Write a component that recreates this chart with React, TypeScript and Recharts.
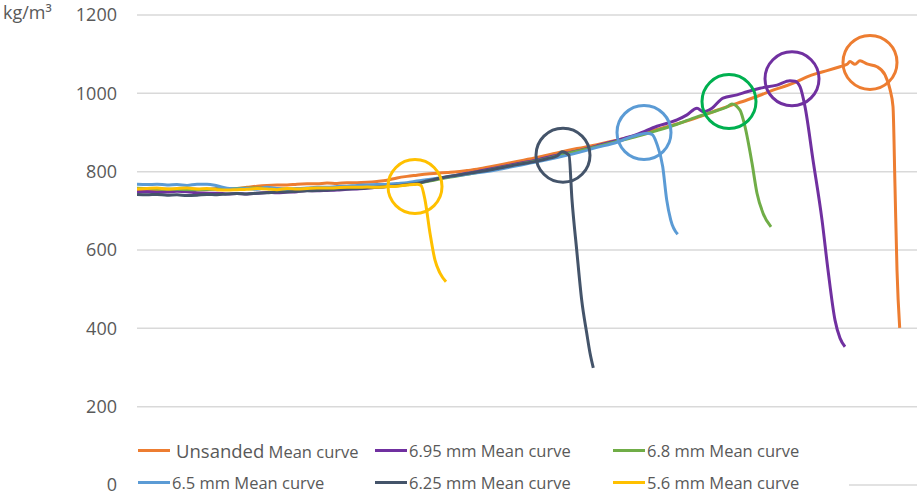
import React from 'react';
import { LineChart, Line, XAxis, YAxis, CartesianGrid, Legend, ReferenceDot } from 'recharts';

// x is test progress (arbitrary units), y is density in kg/m³
const unsandedCurve = [
  { x: 0, y: 754 }, { x: 1, y: 752 }, { x: 2, y: 753 }, { x: 3, y: 755 }, { x: 4, y: 754 },
  { x: 5, y: 756 }, { x: 6, y: 755 }, { x: 7, y: 754 }, { x: 8, y: 757 }, { x: 9, y: 755 },
  { x: 10, y: 757 }, { x: 11, y: 760 }, { x: 12, y: 763 }, { x: 13, y: 765 }, { x: 14, y: 766 },
  { x: 15, y: 766 }, { x: 16, y: 768 }, { x: 17, y: 769 }, { x: 18, y: 769 }, { x: 19, y: 771 },
  { x: 20, y: 770 }, { x: 21, y: 772 }, { x: 22, y: 772 }, { x: 23, y: 773 }, { x: 24, y: 775 },
  { x: 25, y: 778 }, { x: 26, y: 784 }, { x: 27, y: 788 }, { x: 28, y: 791 }, { x: 29, y: 794 },
  { x: 30, y: 796 }, { x: 31, y: 798 }, { x: 32, y: 800 }, { x: 33, y: 803 }, { x: 34, y: 806 },
  { x: 36, y: 816 }, { x: 38, y: 826 }, { x: 40, y: 836 }, { x: 42, y: 848 }, { x: 44, y: 859 },
  { x: 46, y: 869 }, { x: 48, y: 880 }, { x: 50, y: 893 }, { x: 52, y: 908 }, { x: 54, y: 922 },
  { x: 56, y: 938 }, { x: 57.6, y: 953 }, { x: 59, y: 966 }, { x: 61, y: 983 }, { x: 62.5, y: 997 },
  { x: 63.6, y: 1008 }, { x: 65, y: 1020 }, { x: 66, y: 1030 }, { x: 67, y: 1042 }, { x: 68, y: 1051 },
  { x: 69, y: 1058 }, { x: 70.3, y: 1068 }, { x: 71, y: 1074 }, { x: 71.3, y: 1081 }, { x: 71.8, y: 1074 },
  { x: 72.3, y: 1083 }, { x: 73, y: 1075 }, { x: 74, y: 1068 }, { x: 74.8, y: 1047 }, { x: 75.3, y: 1010 },
  { x: 75.6, y: 966 }, { x: 75.8, y: 762 }, { x: 76, y: 549 }, { x: 76.27, y: 401 },
];

const mm695Curve = [
  { x: 0, y: 748 }, { x: 1, y: 749 }, { x: 2, y: 747 }, { x: 3, y: 748 }, { x: 4, y: 750 },
  { x: 5, y: 749 }, { x: 6, y: 746 }, { x: 7, y: 745 }, { x: 8, y: 745 }, { x: 9, y: 743 },
  { x: 10, y: 744 }, { x: 11, y: 743 }, { x: 12, y: 745 }, { x: 13, y: 747 }, { x: 14, y: 746 },
  { x: 15, y: 748 }, { x: 16, y: 749 }, { x: 17, y: 752 }, { x: 18, y: 751 }, { x: 19, y: 752 },
  { x: 20, y: 753 }, { x: 21, y: 755 }, { x: 22, y: 756 }, { x: 23, y: 758 }, { x: 24, y: 760 },
  { x: 25, y: 762 }, { x: 26, y: 765 }, { x: 27, y: 768 }, { x: 28, y: 772 }, { x: 29, y: 777 },
  { x: 30, y: 782 }, { x: 31, y: 786 }, { x: 32, y: 791 }, { x: 33, y: 796 }, { x: 34, y: 800 },
  { x: 36, y: 810 }, { x: 38, y: 820 }, { x: 40, y: 830 }, { x: 42, y: 842 }, { x: 44, y: 853 },
  { x: 46, y: 866 }, { x: 48, y: 880 }, { x: 50, y: 895 }, { x: 52, y: 916 }, { x: 54, y: 932 },
  { x: 55, y: 945 }, { x: 56, y: 962 }, { x: 56.6, y: 953 }, { x: 57.5, y: 962 }, { x: 58.6, y: 988 },
  { x: 60, y: 996 }, { x: 61, y: 1004 }, { x: 62.3, y: 1013 }, { x: 64, y: 1021 }, { x: 65.3, y: 1032 },
  { x: 65.8, y: 1031 }, { x: 66.3, y: 1017 }, { x: 66.8, y: 966 }, { x: 67.6, y: 830 }, { x: 68.5, y: 677 },
  { x: 69.1, y: 549 }, { x: 69.8, y: 421 }, { x: 70.3, y: 375 }, { x: 70.8, y: 353 },
];

const mm68Curve = [
  { x: 0, y: 758 }, { x: 2, y: 756 }, { x: 4, y: 755 }, { x: 6, y: 754 }, { x: 8, y: 756 },
  { x: 10, y: 757 }, { x: 12, y: 758 }, { x: 14, y: 756 }, { x: 16, y: 755 }, { x: 18, y: 757 },
  { x: 20, y: 758 }, { x: 22, y: 760 }, { x: 24, y: 762 }, { x: 26, y: 765 }, { x: 28, y: 770 },
  { x: 30, y: 780 }, { x: 32, y: 789 }, { x: 34, y: 798 }, { x: 36, y: 808 }, { x: 38, y: 818 },
  { x: 40, y: 828 }, { x: 42, y: 840 }, { x: 44, y: 852 }, { x: 46, y: 864 }, { x: 48, y: 877 },
  { x: 50, y: 890 }, { x: 52, y: 905 }, { x: 54, y: 921 }, { x: 56, y: 940 }, { x: 57, y: 948 },
  { x: 58, y: 956 }, { x: 59, y: 965 }, { x: 59.5, y: 973 }, { x: 60.3, y: 957 }, { x: 60.8, y: 915 },
  { x: 61.5, y: 822 }, { x: 62, y: 745 }, { x: 62.6, y: 694 }, { x: 63.4, y: 659 },
];

const mm65Curve = [
  { x: 0, y: 768 }, { x: 1, y: 767 }, { x: 2, y: 768 }, { x: 3, y: 766 }, { x: 4, y: 767 },
  { x: 5, y: 765 }, { x: 6, y: 768 }, { x: 7, y: 768 }, { x: 8, y: 764 }, { x: 9, y: 758 },
  { x: 10, y: 756 }, { x: 11, y: 757 }, { x: 12, y: 755 }, { x: 13, y: 760 }, { x: 14, y: 757 },
  { x: 15, y: 756 }, { x: 16, y: 757 }, { x: 17, y: 758 }, { x: 18, y: 760 }, { x: 19, y: 760 },
  { x: 20, y: 762 }, { x: 21, y: 763 }, { x: 22, y: 765 }, { x: 23, y: 766 }, { x: 24, y: 767 },
  { x: 25, y: 768 }, { x: 26, y: 770 }, { x: 27, y: 772 }, { x: 28, y: 776 }, { x: 30, y: 783 },
  { x: 32, y: 790 }, { x: 34, y: 797 }, { x: 36, y: 805 }, { x: 38, y: 815 }, { x: 40, y: 825 },
  { x: 42, y: 836 }, { x: 44, y: 848 }, { x: 46, y: 862 }, { x: 48, y: 875 }, { x: 49, y: 885 },
  { x: 50, y: 893 }, { x: 51, y: 898 }, { x: 51.5, y: 895 }, { x: 51.97, y: 872 }, { x: 52.57, y: 813 },
  { x: 52.97, y: 728 }, { x: 53.37, y: 677 }, { x: 54.07, y: 640 },
];

const mm625Curve = [
  { x: 0, y: 742 }, { x: 1, y: 741 }, { x: 2, y: 742 }, { x: 3, y: 740 }, { x: 4, y: 741 },
  { x: 5, y: 739 }, { x: 6, y: 740 }, { x: 7, y: 742 }, { x: 8, y: 741 }, { x: 9, y: 743 },
  { x: 10, y: 744 }, { x: 11, y: 743 }, { x: 12, y: 745 }, { x: 13, y: 746 }, { x: 14, y: 748 },
  { x: 15, y: 748 }, { x: 16, y: 750 }, { x: 17, y: 751 }, { x: 18, y: 752 }, { x: 19, y: 753 },
  { x: 20, y: 755 }, { x: 21, y: 756 }, { x: 22, y: 757 }, { x: 23, y: 758 }, { x: 24, y: 760 },
  { x: 25, y: 762 }, { x: 26, y: 764 }, { x: 27, y: 767 }, { x: 28, y: 770 }, { x: 29, y: 776 },
  { x: 30, y: 782 }, { x: 31, y: 787 }, { x: 32, y: 791 }, { x: 33, y: 795 }, { x: 34, y: 799 },
  { x: 35, y: 803 }, { x: 36, y: 808 }, { x: 37, y: 813 }, { x: 38, y: 818 }, { x: 39, y: 822 },
  { x: 40, y: 827 }, { x: 41, y: 833 }, { x: 42, y: 840 }, { x: 42.5, y: 851 }, { x: 43.2, y: 842 },
  { x: 43.5, y: 728 }, { x: 43.97, y: 600 }, { x: 44.47, y: 472 }, { x: 44.97, y: 388 }, { x: 45.3, y: 337 },
  { x: 45.63, y: 299 },
];

const mm56Curve = [
  { x: 0, y: 756 }, { x: 1, y: 757 }, { x: 2, y: 758 }, { x: 3, y: 756 }, { x: 4, y: 757 },
  { x: 5, y: 758 }, { x: 6, y: 756 }, { x: 7, y: 757 }, { x: 8, y: 754 }, { x: 9, y: 753 },
  { x: 10, y: 754 }, { x: 11, y: 755 }, { x: 12, y: 757 }, { x: 13, y: 756 }, { x: 14, y: 754 },
  { x: 15, y: 757 }, { x: 16, y: 756 }, { x: 17, y: 757 }, { x: 18, y: 758 }, { x: 19, y: 758 },
  { x: 20, y: 759 }, { x: 21, y: 760 }, { x: 22, y: 760 }, { x: 23, y: 761 }, { x: 24, y: 760 },
  { x: 25, y: 762 }, { x: 26, y: 763 }, { x: 27, y: 766 }, { x: 28, y: 768 }, { x: 28.4, y: 765 },
  { x: 28.8, y: 728 }, { x: 29.3, y: 643 }, { x: 29.8, y: 574 }, { x: 30.3, y: 541 }, { x: 30.9, y: 519 },
];

// circled break points: [x, y, colour]
const breakMarks: [number, number, string][] = [
  [27.8, 762, '#FFC000'],
  [42.6, 842, '#44546A'],
  [50.7, 900, '#5B9BD5'],
  [59.2, 979, '#00B050'],
  [65.5, 1037, '#7030A0'],
  [73.3, 1079, '#ED7D31'],
];

const yTicks = [0, 200, 400, 600, 800, 1000, 1200];

const series = [
  { name: 'Unsanded Mean curve', data: unsandedCurve, color: '#ED7D31' },
  { name: '6.95 mm Mean curve', data: mm695Curve, color: '#7030A0' },
  { name: '6.8 mm Mean curve', data: mm68Curve, color: '#70AD47' },
  { name: '6.5 mm Mean curve', data: mm65Curve, color: '#5B9BD5' },
  { name: '6.25 mm Mean curve', data: mm625Curve, color: '#44546A' },
  { name: '5.6 mm Mean curve', data: mm56Curve, color: '#FFC000' },
];

const FONT = '"Open Sans", sans-serif';
const TEXT = '#595959';

// Excel-style legend, kept in series order (recharts would sort it by name)
const renderLegend = () => (
  <div
    style={{
      display: 'grid',
      gridTemplateColumns: '237px 238px 1fr',
      gridAutoRows: '32px',
      alignItems: 'center',
      paddingLeft: 1,
      fontFamily: FONT,
      fontSize: 16.5,
      color: TEXT,
    }}
  >
    {series.map((s) => {
      const isUnsanded = s.name.startsWith('Unsanded');
      return (
        <div key={s.name} style={{ display: 'flex', alignItems: 'center', whiteSpace: 'nowrap' }}>
          <span style={{ width: 32, height: 3, background: s.color, marginRight: isUnsanded ? 6 : 2 }} />
          {isUnsanded ? (
            <span>
              <span style={{ fontSize: 18.5 }}>Unsanded</span> Mean curve
            </span>
          ) : (
            <span>{s.name}</span>
          )}
        </div>
      );
    })}
  </div>
);

export default function App() {
  return (
    <div style={{ position: 'absolute', left: 0, top: 0, width: 917, height: 497, background: '#fff' }}>
      <div
        style={{
          position: 'absolute',
          left: 3,
          top: 3,
          fontFamily: FONT,
          fontSize: 18,
          lineHeight: '18px',
          color: TEXT,
          zIndex: 2,
        }}
      >
        kg/m³
      </div>
      <LineChart width={917} height={497} margin={{ top: 15, right: 0, bottom: 12, left: 0 }}>
        <CartesianGrid vertical={false} stroke="#D9D9D9" strokeWidth={1.5} />
        <XAxis type="number" dataKey="x" domain={[0, 78]} hide allowDataOverflow />
        <YAxis
          domain={[0, 1200]}
          ticks={yTicks}
          width={137}
          axisLine={false}
          tickLine={false}
          tickSize={0}
          tickMargin={20}
          tick={{ fontSize: 18, fill: TEXT, fontFamily: FONT }}
        />
        {series.map((s) => (
          <Line
            key={s.name}
            data={s.data}
            dataKey="y"
            name={s.name}
            type="monotone"
            stroke={s.color}
            strokeWidth={3}
            dot={false}
            activeDot={false}
            isAnimationActive={false}
          />
        ))}
        {breakMarks.map(([x, y, c]) => (
          <ReferenceDot key={c} x={x} y={y} r={27} fill="none" stroke={c} strokeWidth={3} />
        ))}
        <Legend
          layout="horizontal"
          verticalAlign="middle"
          align="center"
          content={renderLegend}
          wrapperStyle={{ left: 137, top: 434, width: 712, height: 63, background: '#fff' }}
        />
      </LineChart>
    </div>
  );
}
